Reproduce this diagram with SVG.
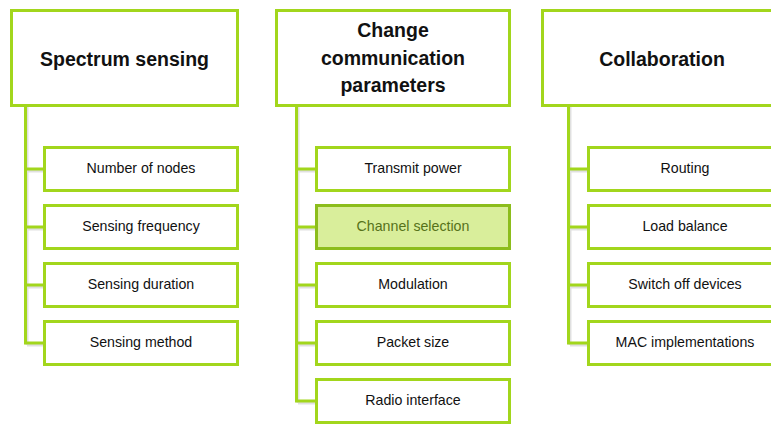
<svg xmlns="http://www.w3.org/2000/svg" width="771" height="424" viewBox="0 0 771 424">
<style>
.box{fill:#ffffff;stroke:#a2d61c;stroke-width:3}
.sel{fill:#d9ee9b;stroke:#8cbd1c;stroke-width:3}
.hd{font-family:"Liberation Sans",Arial,sans-serif;font-weight:bold;font-size:19.5px;fill:#111;text-anchor:middle}
.ch{font-family:"Liberation Sans",Arial,sans-serif;font-size:14.2px;fill:#111;text-anchor:middle}
.cs{fill:#56721a}
.ln{stroke:#a2d61c;stroke-width:3;fill:none}
.sh{stroke:#000;stroke-opacity:0.12;stroke-width:3;fill:none}
</style>
<rect width="771" height="424" fill="#ffffff"/>
<g id="connectors">
<path class="sh" d="M27 107V345M27 171H44M27 229H44M27 287H44M27 345H44"/>
<path class="ln" d="M25.5 106V344.5M25.5 169H44M25.5 227H44M25.5 285H44M25.5 343H44"/>
<path class="sh" d="M298 107V403M298 171H316M298 229H316M298 287H316M298 345H316M298 403H316"/>
<path class="ln" d="M296.5 106V402.5M296.5 169H316M296.5 227H316M296.5 285H316M296.5 343H316M296.5 401H316"/>
<path class="sh" d="M570 107V345M570 171H588M570 229H588M570 287H588M570 345H588"/>
<path class="ln" d="M568.5 106V344.5M568.5 169H588M568.5 227H588M568.5 285H588M568.5 343H588"/>
</g>
<g id="spectrum-sensing"><rect class="box" x="11.5" y="10.5" width="226" height="95"/><text class="hd" x="124.5" y="66">Spectrum sensing</text></g>
<g id="number-of-nodes"><rect class="box" x="44.5" y="147.5" width="193" height="43"/><text class="ch" x="141" y="173">Number of nodes</text></g>
<g id="sensing-frequency"><rect class="box" x="44.5" y="205.5" width="193" height="43"/><text class="ch" x="141" y="231">Sensing frequency</text></g>
<g id="sensing-duration"><rect class="box" x="44.5" y="263.5" width="193" height="43"/><text class="ch" x="141" y="289">Sensing duration</text></g>
<g id="sensing-method"><rect class="box" x="44.5" y="321.5" width="193" height="43"/><text class="ch" x="141" y="347">Sensing method</text></g>
<g id="change-communication-parameters"><rect class="box" x="276.5" y="10.5" width="233" height="95"/><text class="hd" x="393" y="37">Change</text><text class="hd" x="393" y="65">communication</text><text class="hd" x="393" y="92">parameters</text></g>
<g id="transmit-power"><rect class="box" x="316.5" y="147.5" width="193" height="43"/><text class="ch" x="413" y="173">Transmit power</text></g>
<g id="channel-selection"><rect class="sel" x="316.5" y="205.5" width="193" height="43"/><text class="ch cs" x="413" y="231">Channel selection</text></g>
<g id="modulation"><rect class="box" x="316.5" y="263.5" width="193" height="43"/><text class="ch" x="413" y="289">Modulation</text></g>
<g id="packet-size"><rect class="box" x="316.5" y="321.5" width="193" height="43"/><text class="ch" x="413" y="347">Packet size</text></g>
<g id="radio-interface"><rect class="box" x="316.5" y="379.5" width="193" height="43"/><text class="ch" x="413" y="405">Radio interface</text></g>
<g id="collaboration"><rect class="box" x="542.5" y="10.5" width="239" height="95"/><text class="hd" x="662" y="66">Collaboration</text></g>
<g id="routing"><rect class="box" x="588.5" y="147.5" width="193" height="43"/><text class="ch" x="685" y="173">Routing</text></g>
<g id="load-balance"><rect class="box" x="588.5" y="205.5" width="193" height="43"/><text class="ch" x="685" y="231">Load balance</text></g>
<g id="switch-off-devices"><rect class="box" x="588.5" y="263.5" width="193" height="43"/><text class="ch" x="685" y="289">Switch off devices</text></g>
<g id="mac-implementations"><rect class="box" x="588.5" y="321.5" width="193" height="43"/><text class="ch" x="685" y="347">MAC implementations</text></g>
</svg>
